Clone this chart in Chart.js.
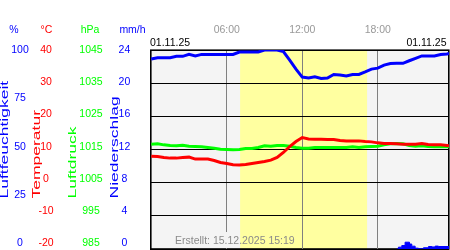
<!DOCTYPE html>
<html>
<head>
<meta charset="utf-8">
<script src="https://cdn.jsdelivr.net/npm/chart.js@4.4.1/dist/chart.umd.min.js"></script>
<style>
  html, body { margin: 0; padding: 0; background: #fff; }
  canvas { display: block; }
</style>
</head>
<body>
<canvas id="wetter" width="450" height="250"></canvas>
<script>
// --- data (hours since 00:00 on 01.11.25) ---
const times = [0, 0.5, 1, 1.5, 2, 2.5, 3, 3.5, 4, 4.5, 5, 5.5, 6, 6.5, 7, 7.5, 8, 8.5, 9, 9.5,
  10, 10.5, 11, 11.5, 12, 12.5, 13, 13.5, 14, 14.5, 15, 15.5, 16, 16.5, 17, 17.5, 18, 18.5, 19, 19.5,
  20, 20.5, 21, 21.5, 22, 22.5, 23, 23.5, 23.66];
const humVals = [95.5, 96.1, 96.1, 96.1, 96.8, 96.8, 97.8, 97.0, 97.8, 97.8, 97.8, 97.8, 97.8, 97.8, 99.0, 99.0, 99.0, 99.0, 100, 100,
  100, 99.2, 94.9, 90.4, 86.4, 85.9, 86.5, 85.7, 85.9, 87.7, 87.4, 86.9, 87.7, 87.7, 89.0, 90.4, 90.9, 92.4, 93.2, 93.3,
  93.3, 94.6, 95.8, 97.0, 97.0, 97.0, 97.7, 98.0, 98.2];
const tempVals = [8.0, 7.9, 7.6, 7.4, 7.4, 7.6, 7.7, 7.1, 7.1, 7.1, 6.7, 6.1, 5.8, 5.4, 5.3, 5.5, 5.8, 6.1, 6.4, 6.8,
  7.6, 9.1, 10.9, 12.4, 13.6, 13.2, 13.1, 13.1, 13.0, 13.0, 12.7, 12.6, 12.6, 12.6, 12.4, 12.3, 12.0, 11.8, 11.8, 11.7,
  11.6, 11.6, 11.6, 11.8, 11.5, 11.4, 11.4, 11.2, 11.1];
const presVals = [1016.6, 1016.7, 1016.4, 1016.2, 1016.1, 1016.3, 1016.0, 1015.9, 1015.8, 1015.6, 1015.4, 1015.1, 1015.0, 1014.9, 1015.0, 1015.3, 1015.3, 1015.6, 1016.1, 1016.0,
  1016.2, 1016.2, 1016.0, 1015.6, 1015.4, 1015.4, 1015.6, 1015.6, 1015.6, 1015.6, 1015.6, 1015.6, 1015.8, 1015.6, 1015.8, 1015.9, 1016.0, 1016.4, 1016.7, 1016.8,
  1016.7, 1016.2, 1016.0, 1016.1, 1015.9, 1015.8, 1015.8, 1015.8, 1015.8];
const rainTimes = [19.5, 19.64, 19.91, 20.17, 20.52, 20.7, 20.97, 21.23, 21.63, 22.03, 22.3, 22.56, 22.82, 23.66];
const rainVals = [0, 0.22, 0.42, 0.82, 0.6, 0.34, 0.1, 0.02, 0.15, 0.3, 0.25, 0.35, 0.3, 0.3];

const humTicks = [0, 25, 50, 75, 100];
const tempTicks = [-20, -10, 0, 10, 20, 30, 40];
const presTicks = [985, 995, 1005, 1015, 1025, 1035, 1045];
const rainTicks = [0, 4, 8, 12, 16, 20, 24];
const timeTicks = [6, 12, 18];
const timeLabels = ['06:00', '12:00', '18:00'];
const dayStart = 7.06, dayEnd = 17.15;   // yellow daylight band

const FONT = '"Liberation Sans", Arial, sans-serif';
const BLUE = '#0000ff', RED = '#ff0000', GREEN = '#00ff00';

Chart.defaults.font.family = FONT;
Chart.defaults.font.size = 10.5;

const pts = (xs, ys) => xs.map((t, i) => ({ x: t, y: ys[i] }));

// label columns on the left (slightly compressed like the original)
function labelAxis(tickArr, min, max, color, weight, width, pad) {
  return {
    type: 'linear', position: 'left', weight, min, max,
    grid: { display: false, drawTicks: false },
    border: { display: false },
    afterBuildTicks: ax => { ax.ticks = tickArr.map(v => ({ value: v })); },
    afterFit: ax => { ax.width = width; ax.paddingTop = 0; ax.paddingBottom = 0; },
    ticks: { color, padding: pad, crossAlign: 'center', autoSkip: false, callback: v => String(v) }
  };
}

const backdrop = {
  id: 'backdrop',
  beforeDraw(chart) {
    const { ctx, chartArea: a, scales } = chart;
    ctx.save();
    ctx.fillStyle = '#f4f4f4';
    ctx.fillRect(a.left, a.top, a.right - a.left, a.bottom - a.top);
    const x0 = scales.x.getPixelForValue(dayStart), x1 = scales.x.getPixelForValue(dayEnd);
    ctx.fillStyle = '#ffffa0';
    ctx.fillRect(x0, a.top, x1 - x0, a.bottom - a.top);
    ctx.strokeStyle = '#000';
    ctx.lineWidth = 1.6;
    ctx.strokeRect(a.left + 0.8, a.top + 0.2, a.right - a.left - 1, a.bottom - a.top - 0.2);
    ctx.restore();
  },
  beforeDatasetsDraw(chart) {
    const { ctx, chartArea: a, scales } = chart;
    const x0 = scales.x.getPixelForValue(dayStart);
    ctx.save();
    ctx.fillStyle = '#f4f4f4';
    ctx.fillRect(172, 232, x0 - 172, a.bottom - 233);
    ctx.fillStyle = '#8a8a8a';
    ctx.font = '10.5px ' + FONT;
    ctx.textBaseline = 'middle';
    ctx.fillText('Erstellt: 15.12.2025 15:19', 175, 241.5);
    ctx.restore();
  },
  afterDraw(chart) {
    const { ctx } = chart;
    ctx.save();
    ctx.font = '10.5px ' + FONT;
    ctx.textBaseline = 'middle';
    ctx.textAlign = 'center';
    [['%', 14, BLUE], ['°C', 46.5, RED], ['hPa', 90, GREEN], ['mm/h', 132.5, BLUE]].forEach(([t, x, c]) => {
      ctx.fillStyle = c;
      ctx.fillText(t, x, 30.5);
    });
    ctx.fillStyle = '#000';
    ctx.textAlign = 'left';
    ctx.fillText('01.11.25', 150, 43.5);
    ctx.textAlign = 'right';
    ctx.fillText('01.11.25', 446.5, 43.5);
    // stretched vertical axis titles
    ctx.font = '10px ' + FONT;
    ctx.textAlign = 'left';
    ctx.textBaseline = 'alphabetic';
    [['Luftfeuchtigkeit', 8, BLUE], ['Temperatur', 39.5, RED], ['Luftdruck', 75.5, GREEN], ['Niederschlag', 117.5, BLUE]].forEach(([t, x, c]) => {
      ctx.save();
      ctx.translate(x, 198.5);
      ctx.rotate(-Math.PI / 2);
      ctx.scale(1.75, 1);
      ctx.fillStyle = c;
      ctx.fillText(t, 0, 0);
      ctx.restore();
    });
    ctx.restore();
  }
};

new Chart(document.getElementById('wetter'), {
  type: 'line',
  data: {
    datasets: [
      { data: pts(times, humVals), yAxisID: 'yHum', borderColor: BLUE, borderWidth: 3, pointRadius: 0 },
      { data: pts(times, tempVals), yAxisID: 'yTemp', borderColor: RED, borderWidth: 3, pointRadius: 0 },
      { data: pts(times, presVals), yAxisID: 'yPres', borderColor: GREEN, borderWidth: 3, pointRadius: 0 },
      { data: pts(rainTimes, rainVals), yAxisID: 'yRain', borderColor: BLUE, backgroundColor: BLUE,
        borderWidth: 1, pointRadius: 0, stepped: true, fill: 'origin' }
    ]
  },
  options: {
    responsive: false,
    animation: false,
    devicePixelRatio: 1,
    layout: { padding: { left: 0, top: 0, right: 1, bottom: 1 } },
    plugins: { legend: { display: false }, tooltip: { enabled: false } },
    scales: {
      x: {
        type: 'linear', position: 'top', min: -0.1, max: 23.66,
        afterBuildTicks: ax => { ax.ticks = timeTicks.map(v => ({ value: v })); },
        afterFit: ax => { ax.height = 50; },
        grid: { color: '#808080', lineWidth: 1, drawTicks: false },
        border: { display: false },
        ticks: { color: '#999999', padding: 13.5, autoSkip: false, maxRotation: 0,
          callback: (v, i) => timeLabels[i] }
      },
      yHum: { display: false, min: 0, max: 100 },
      yTemp: { display: false, min: -20, max: 40 },
      yPres: { display: false, min: 985, max: 1045 },
      yRain: {
        type: 'linear', position: 'left', weight: 0, min: 0, max: 24,
        afterBuildTicks: ax => { ax.ticks = rainTicks.map(v => ({ value: v })); },
        afterFit: ax => { ax.width = 0; ax.paddingTop = 0; ax.paddingBottom = 0; },
        grid: { color: '#000', lineWidth: 1, drawTicks: false },
        border: { display: false },
        ticks: { display: false }
      },
      lHum: labelAxis(humTicks, -2.94, 100, BLUE, 4, 33, 4.2),
      lTemp: labelAxis(tempTicks, -21.77, 40, RED, 3, 29, 8.4),
      lPres: labelAxis(presTicks, 983.23, 1045, GREEN, 2, 46, 5.3),
      lRain: labelAxis(rainTicks, -0.71, 24, BLUE, 1, 42, 19.7)
    }
  },
  plugins: [backdrop]
});
</script>
</body>
</html>
